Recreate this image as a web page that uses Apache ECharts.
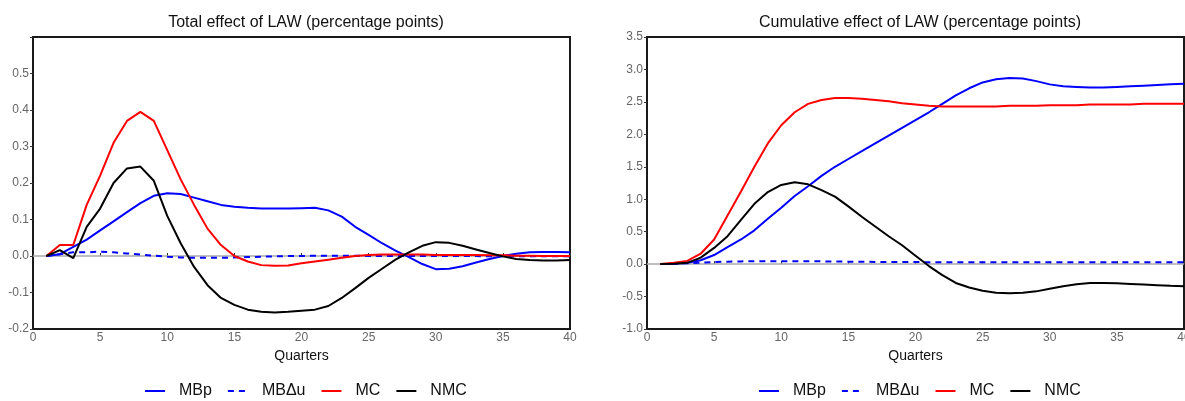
<!DOCTYPE html>
<html>
<head>
<meta charset="utf-8">
<script src="https://cdn.jsdelivr.net/npm/echarts@6/dist/echarts.min.js"></script>
<style>
  html, body { margin: 0; padding: 0; background: #fff; }
  #chart { width: 1185px; height: 401px; }
</style>
</head>
<body>
<div id="chart"></div>
<script>
// quarters on the x axis
const quarters = [1, 2, 3, 4, 5, 6, 7, 8, 9, 10, 11, 12, 13, 14, 15, 16, 17, 18, 19, 20,
  21, 22, 23, 24, 25, 26, 27, 28, 29, 30, 31, 32, 33, 34, 35, 36, 37, 38, 39, 40];
const seriesNames = ['MBp', 'MB\u0394u', 'MC', 'NMC'];

// total effect (left panel)
const totalMBp = [0, 0.005, 0.025, 0.045, 0.07, 0.095, 0.12, 0.145, 0.165, 0.172,
  0.17, 0.16, 0.15, 0.14, 0.135, 0.132, 0.13, 0.13, 0.13, 0.131,
  0.132, 0.125, 0.108, 0.08, 0.058, 0.035, 0.015, -0.003, -0.022, -0.036,
  -0.035, -0.028, -0.018, -0.008, 0, 0.006, 0.01, 0.011, 0.011, 0.01];
const totalMBdu = [0, 0.005, 0.01, 0.01, 0.012, 0.01, 0.007, 0.004, 0.001, -0.002,
  -0.004, -0.005, -0.005, -0.005, -0.004, -0.003, -0.002, -0.001, 0, 0,
  0.001, 0.001, 0.001, 0.001, 0, 0, 0, 0, 0, 0,
  0, 0, 0, -0.001, -0.001, -0.001, -0.001, -0.001, -0.001, -0.001];
const totalMC = [0, 0.03, 0.03, 0.14, 0.22, 0.31, 0.37, 0.395, 0.37, 0.29,
  0.21, 0.14, 0.075, 0.03, 0.0, -0.015, -0.025, -0.027, -0.026, -0.02,
  -0.015, -0.01, -0.005, 0, 0.003, 0.004, 0.004, 0.004, 0.004, 0.003,
  0.003, 0.003, 0.003, 0.002, 0.002, 0.001, 0.001, 0, 0, 0];
const totalNMC = [0, 0.016, -0.006, 0.08, 0.13, 0.2, 0.24, 0.245, 0.206, 0.11,
  0.035, -0.03, -0.08, -0.115, -0.134, -0.147, -0.153, -0.155, -0.153, -0.15,
  -0.147, -0.137, -0.115, -0.088, -0.06, -0.035, -0.01, 0.01, 0.028, 0.038,
  0.036, 0.028, 0.018, 0.008, -0.001, -0.008, -0.011, -0.012, -0.012, -0.011];

// cumulative effect (right panel)
const cumMBp = [0, 0.005, 0.02, 0.06, 0.14, 0.26, 0.38, 0.52, 0.7, 0.87,
  1.05, 1.2, 1.36, 1.5, 1.62, 1.74, 1.86, 1.98, 2.1, 2.22,
  2.34, 2.47, 2.6, 2.71, 2.8, 2.85, 2.87, 2.86, 2.82, 2.77,
  2.74, 2.73, 2.72, 2.72, 2.73, 2.74, 2.75, 2.76, 2.77, 2.78];
const cumMBdu = [0, 0.005, 0.012, 0.022, 0.032, 0.038, 0.042, 0.045, 0.046, 0.046,
  0.045, 0.044, 0.042, 0.04, 0.038, 0.036, 0.034, 0.033, 0.032, 0.031,
  0.03, 0.03, 0.03, 0.03, 0.03, 0.03, 0.03, 0.03, 0.03, 0.03,
  0.03, 0.03, 0.03, 0.03, 0.03, 0.03, 0.03, 0.03, 0.03, 0.03];
const cumMC = [0, 0.02, 0.05, 0.16, 0.38, 0.75, 1.12, 1.5, 1.86, 2.14,
  2.34, 2.47, 2.53, 2.56, 2.56, 2.55, 2.53, 2.51, 2.48, 2.46,
  2.44, 2.43, 2.43, 2.43, 2.43, 2.43, 2.44, 2.44, 2.44, 2.45,
  2.45, 2.45, 2.46, 2.46, 2.46, 2.46, 2.47, 2.47, 2.47, 2.47];
const cumNMC = [0, 0.005, 0.02, 0.1, 0.25, 0.43, 0.68, 0.93, 1.11, 1.22,
  1.26, 1.23, 1.14, 1.04, 0.89, 0.73, 0.58, 0.43, 0.29, 0.13,
  -0.03, -0.17, -0.29, -0.36, -0.41, -0.44, -0.45, -0.44, -0.42, -0.38,
  -0.34, -0.31, -0.29, -0.29, -0.295, -0.305, -0.315, -0.325, -0.335, -0.34];

const font = 'Liberation Sans, Arial, sans-serif';
const pair = arr => quarters.map((q, i) => [q, arr[i]]);

function makeGrid(left) {
  return {
    left: left, top: 37, width: 537, height: 292,
    outerBoundsMode: 'none', containLabel: false,
    show: true, borderColor: '#1a1a1a', borderWidth: 2, backgroundColor: 'transparent'
  };
}

function makeX(idx) {
  return {
    gridIndex: idx, type: 'value', min: 0, max: 40, interval: 5,
    name: 'Quarters', nameLocation: 'middle', nameGap: 17,
    nameTextStyle: { color: '#111', fontSize: 14, fontFamily: font },
    axisLine: { show: false },
    axisTick: { show: true, length: 3, inside: true, lineStyle: { color: '#333' } },
    axisLabel: { color: '#666', fontSize: 12, fontFamily: font, margin: 3 },
    splitLine: { show: false }
  };
}

function makeY(idx, min, max, interval, hideAbove) {
  return {
    gridIndex: idx, type: 'value', min: min, max: max, interval: interval,
    axisLine: { show: false },
    axisTick: { show: true, length: 3, lineStyle: { color: '#333' } },
    axisLabel: {
      color: '#666', fontSize: 12, fontFamily: font, margin: 4,
      formatter: v => (v > hideAbove ? '' : v.toFixed(1))
    },
    splitLine: { show: false }
  };
}

function makeSeries(idx, data) {
  const colors = ['#0000ff', '#0000ff', '#ff0000', '#000000'];
  return data.map((d, k) => {
    const s = {
      name: seriesNames[k], type: 'line', xAxisIndex: idx, yAxisIndex: idx,
      data: pair(d), showSymbol: false, symbol: 'none', smooth: false,
      lineStyle: { color: colors[k], width: 2, type: k === 1 ? [6, 5] : 'solid' },
      itemStyle: { color: colors[k] },
      z: 3
    };
    if (k === 0) {
      // gray zero line
      s.markLine = {
        silent: true, symbol: 'none', label: { show: false },
        lineStyle: { color: '#aaaaaa', width: 1.5, type: 'solid' },
        data: [{ yAxis: 0 }], z: 1
      };
    }
    return s;
  });
}

function makeLegend(left) {
  return {
    data: seriesNames, left: left, top: 383, padding: 0,
    itemWidth: 20, itemHeight: 10, itemGap: 15,
    itemStyle: { opacity: 0 },
    textStyle: { color: '#111', fontSize: 16, fontFamily: font, padding: [0, 0, 0, 9] },
    selectedMode: false
  };
}

const chart = echarts.init(document.getElementById('chart'));
chart.setOption({
  animation: false,
  title: [
    { text: 'Total effect of LAW (percentage points)', left: 301, top: 10, textAlign: 'center',
      textStyle: { fontSize: 16, fontWeight: 'normal', color: '#111', fontFamily: font } },
    { text: 'Cumulative effect of LAW (percentage points)', left: 915, top: 10, textAlign: 'center',
      textStyle: { fontSize: 16, fontWeight: 'normal', color: '#111', fontFamily: font } }
  ],
  legend: [makeLegend(144), makeLegend(758)],
  grid: [makeGrid(33), makeGrid(647)],
  xAxis: [makeX(0), makeX(1)],
  yAxis: [makeY(0, -0.2, 0.6, 0.1, 0.55), makeY(1, -1, 3.5, 0.5, 10)],
  series: [].concat(
    makeSeries(0, [totalMBp, totalMBdu, totalMC, totalNMC]),
    makeSeries(1, [cumMBp, cumMBdu, cumMC, cumNMC])
  )
});
</script>
</body>
</html>
